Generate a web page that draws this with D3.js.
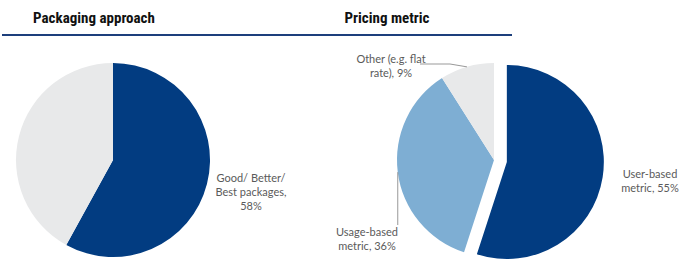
<!DOCTYPE html>
<html>
<head>
<meta charset="utf-8">
<script src="https://cdn.jsdelivr.net/npm/d3@7"></script>
<style>
  body { margin: 0; background: #fff; }
  svg { display: block; }
</style>
</head>
<body>
<div id="chart"></div>
<script>
// data
var packaging_labels = ['Good/ Better/ Best packages', 'Other'];
var packaging_values = [58, 42];
var pricing_labels = ['User-based metric', 'Usage-based metric', 'Other (e.g. flat rate)'];
var pricing_values = [55, 36, 9];
var titles = ['Packaging approach', 'Pricing metric'];

var chart_width = 684;
var chart_height = 261;
var radius = 97;

var svg = d3.select('#chart')
    .append('svg')
    .attr('width', chart_width)
    .attr('height', chart_height);

var pie = d3.pie().sort(null).value(function (d) { return d.value; });
var arc = d3.arc().innerRadius(0).outerRadius(radius);

function rows(labels, values) {
    return labels.map(function (l, i) { return { label: l, value: values[i] }; });
}

// header
svg.append('line')
    .attr('x1', 2).attr('x2', 512)
    .attr('y1', 35).attr('y2', 35)
    .attr('stroke', '#1d3f7c')
    .attr('stroke-width', 2);

svg.selectAll('text.title')
    .data(titles)
    .enter()
    .append('text')
    .attr('class', 'title')
    .attr('x', function (d, i) { return i === 0 ? 94 : 387; })
    .attr('y', 23)
    .attr('text-anchor', 'middle')
    .style('font-family', '"Liberation Sans Narrow", "Roboto Condensed", "Liberation Sans", sans-serif')
    .style('font-weight', 'bold')
    .style('font-size', '15px')
    .attr('fill', '#111')
    .text(function (d) { return d; });

function label_block(g, lines, x, y) {
    var t = g.append('text')
        .attr('x', x).attr('y', y)
        .attr('text-anchor', 'middle')
        .style('font-family', 'Lato, "Open Sans", sans-serif')
        .style('font-size', '11px')
        .attr('fill', '#5a5a5a');
    lines.forEach(function (s, i) {
        t.append('tspan').attr('x', x).attr('dy', i === 0 ? 0 : 14).text(s);
    });
}

// Packaging approach pie
var left = svg.append('g').attr('transform', 'translate(113,160)');
var left_colors = ['#023c81', '#e8e9ea'];
left.selectAll('path')
    .data(pie(rows(packaging_labels, packaging_values)))
    .enter()
    .append('path')
    .attr('d', arc)
    .attr('fill', function (d, i) { return left_colors[i]; });

label_block(left, ['Good/ Better/', 'Best packages,', packaging_values[0] + '%'], 138, 22);

// Pricing metric pie (first slice pulled out)
var right = svg.append('g').attr('transform', 'translate(494,160)');
var right_colors = ['#023c81', '#7eaed3', '#e8e9ea'];
var explode = 13;
var right_arcs = pie(rows(pricing_labels, pricing_values));
right.selectAll('path')
    .data(right_arcs)
    .enter()
    .append('path')
    .attr('d', arc)
    .attr('fill', function (d, i) { return right_colors[i]; })
    .attr('transform', function (d, i) {
        if (i !== 0) return null;
        var a = (d.startAngle + d.endAngle) / 2;
        return 'translate(' + (Math.sin(a) * explode) + ',' + (-Math.cos(a) * explode) + ')';
    });

function edge(d) {
    var a = (d.startAngle + d.endAngle) / 2;
    return [Math.sin(a) * radius, -Math.cos(a) * radius];
}

// leader lines
var p_usage = edge(right_arcs[1]);
right.append('polyline')
    .attr('points', [p_usage, [p_usage[0], 65]].join(' '))
    .attr('fill', 'none')
    .attr('stroke', '#999')
    .attr('stroke-width', 1);

var p_other = edge(right_arcs[2]);
right.append('polyline')
    .attr('points', [[-74, -96], [-44, -96], p_other].join(' '))
    .attr('fill', 'none')
    .attr('stroke', '#999')
    .attr('stroke-width', 1);

label_block(right, ['User-based', 'metric, ' + pricing_values[0] + '%'], 156, 18);
label_block(right, ['Usage-based', 'metric, ' + pricing_values[1] + '%'], -127, 76);
label_block(right, ['Other (e.g. flat', 'rate), ' + pricing_values[2] + '%'], -103, -97);
</script>
</body>
</html>
